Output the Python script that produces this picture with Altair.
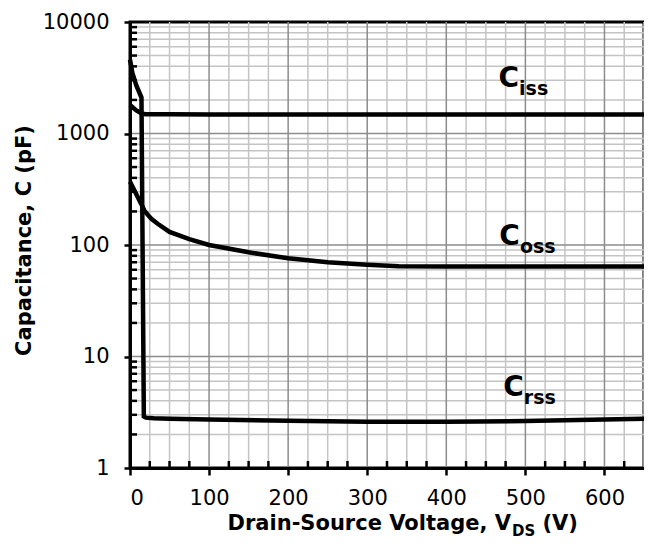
import altair as alt
import pandas as pd

# ---- data ----
vds_ciss = [0, 4, 8, 12, 16, 20, 50, 100, 200, 300, 400, 500, 600, 650]
ciss = [1800, 1700, 1610, 1550, 1505, 1490, 1485, 1482, 1480, 1480, 1480, 1480, 1480, 1480]

vds_coss = [0, 8, 14, 18, 22, 27, 35, 50, 75, 100, 150, 200, 250, 300, 340, 400, 500, 650]
coss = [370, 285, 235, 205, 188, 172, 155, 131, 113, 100, 86, 76, 70, 66.5, 64.5, 64, 64, 64]

vds_crss = [0, 3, 8, 14.5, 17.5, 20, 30, 50, 100, 200, 300, 400, 500, 600, 650]
crss = [4600, 3500, 2700, 2100, 2.9, 2.83, 2.79, 2.76, 2.72, 2.65, 2.6, 2.6, 2.64, 2.72, 2.77]

x_major = [0, 100, 200, 300, 400, 500, 600]
x_minor = [25, 50, 75, 125, 150, 175, 225, 250, 275, 325, 350, 375,
           425, 450, 475, 525, 550, 575, 625, 650]
y_major = [1, 10, 100, 1000, 10000]
y_minor = [2, 3, 4, 5, 6, 7, 8, 9, 20, 30, 40, 50, 60, 70, 80, 90,
           200, 300, 400, 500, 600, 700, 800, 900,
           2000, 3000, 4000, 5000, 6000, 7000, 8000, 9000]

label_names = ["iss", "oss", "rss"]
label_v = [466, 467, 472]
label_c = [2612, 100, 4.42]

# ---- tables ----
curves = pd.concat([
    pd.DataFrame({"v": vds_ciss, "c": ciss, "s": "Ciss"}),
    pd.DataFrame({"v": vds_coss, "c": coss, "s": "Coss"}),
    pd.DataFrame({"v": vds_crss, "c": crss, "s": "Crss"}),
], ignore_index=True)
labels = pd.DataFrame({"v": label_v, "c": label_c, "sub": label_names, "C": ["C"] * 3})

W, H = 514, 446
FONT = "DejaVu Sans"
xs = alt.Scale(domain=[0, 650], nice=False, zero=False)
ys = alt.Scale(type="log", domain=[1, 10000], nice=False)

x_axis = alt.Axis(
    values=x_major, title=None, grid=False, tickSize=7, tickWidth=2.5,
    domainWidth=3, domainColor="black", tickColor="black",
    labelFont=FONT, labelFontSize=21, labelColor="black", labelPadding=12,
    zindex=1)
y_axis = alt.Axis(
    values=y_major, format="d", grid=False, tickSize=6, tickWidth=2.5,
    domainWidth=3, domainColor="black", tickColor="black",
    labelFont=FONT, labelFontSize=21, labelColor="black", labelPadding=15,
    title="Capacitance, C (pF)", titleFont=FONT, titleFontSize=21,
    titleFontWeight="bold", titleColor="black", titleX=-106, titleY=218,
    titleAngle=270, titleBaseline="middle", titleAlign="center", zindex=1)

X = alt.X("v:Q", scale=xs, axis=x_axis)
Y = alt.Y("c:Q", scale=ys, axis=y_axis)

gx_minor = alt.Chart(pd.DataFrame({"v": x_minor})).mark_rule(
    color="#c4c4c4", strokeWidth=1.5).encode(x=X)
gy_minor = alt.Chart(pd.DataFrame({"c": y_minor})).mark_rule(
    color="#c4c4c4", strokeWidth=1.5).encode(y=Y)
gx_major = alt.Chart(pd.DataFrame({"v": x_major[1:]})).mark_rule(
    color="#8c8c8c", strokeWidth=1.5).encode(x=X)
gy_major = alt.Chart(pd.DataFrame({"c": y_major[1:-1]})).mark_rule(
    color="#8c8c8c", strokeWidth=1.5).encode(y=Y)

lines = alt.Chart(curves).mark_line(color="black", strokeWidth=4.5, strokeJoin="miter").encode(
    x=X, y=Y, detail="s:N")

tx_minor = alt.Chart(pd.DataFrame({"v": x_minor[:-1]})).mark_rule(
    color="black", strokeWidth=2.5).encode(x=X, y=alt.value(H), y2=alt.value(H - 7))
ty_minor = alt.Chart(pd.DataFrame({"c": y_minor})).mark_rule(
    color="black", strokeWidth=2.5).encode(y=Y, x=alt.value(0), x2=alt.value(7))

lab_c = alt.Chart(labels).mark_text(
    align="left", baseline="alphabetic", font=FONT, fontWeight="bold",
    fontSize=28, color="black").encode(x=X, y=Y, text="C:N")
lab_sub = alt.Chart(labels).mark_text(
    align="left", baseline="alphabetic", font=FONT, fontWeight="bold",
    fontSize=19, color="black", dx=20.6, dy=8).encode(x=X, y=Y, text="sub:N")

t_main = alt.Chart(pd.DataFrame({"t": ["Drain-Source Voltage, V"]})).mark_text(
    align="right", baseline="alphabetic", font=FONT, fontWeight="bold",
    fontSize=21, color="black").encode(x=alt.value(381), y=alt.value(508), text="t:N")
t_sub = alt.Chart(pd.DataFrame({"t": ["DS"]})).mark_text(
    align="left", baseline="alphabetic", font=FONT, fontWeight="bold",
    fontSize=15, color="black").encode(x=alt.value(382), y=alt.value(513.5), text="t:N")
t_end = alt.Chart(pd.DataFrame({"t": ["(V)"]})).mark_text(
    align="left", baseline="alphabetic", font=FONT, fontWeight="bold",
    fontSize=21, color="black").encode(x=alt.value(412.5), y=alt.value(508), text="t:N")

chart = alt.layer(
    gx_minor, gy_minor, gx_major, gy_major, lines, tx_minor, ty_minor,
    lab_c, lab_sub, t_main, t_sub, t_end
).properties(
    width=W, height=H, autosize="none",
    padding={"left": 122, "top": 14, "right": 0, "bottom": 71},
    background="white",
).configure_view(stroke="black", strokeWidth=3)

chart.save("out.html", embed_options={"renderer": "svg", "actions": False})
